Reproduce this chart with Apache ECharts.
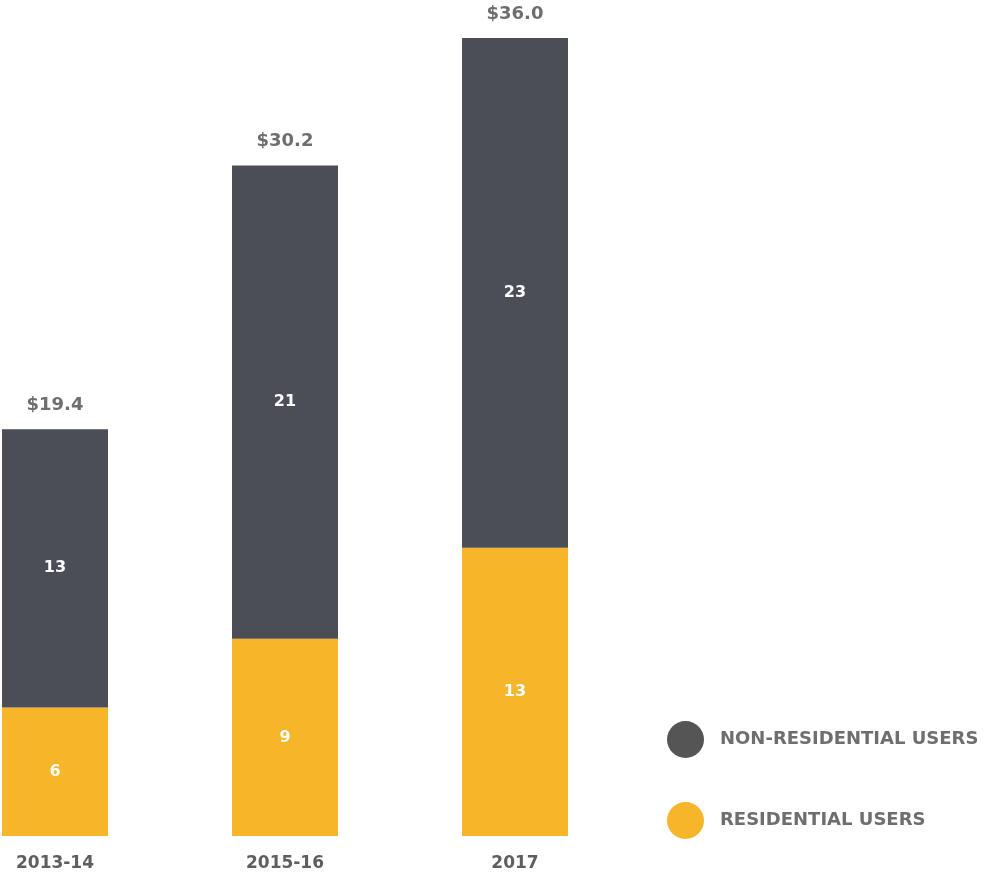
<!DOCTYPE html>
<html><head><meta charset="utf-8">
<script src="https://cdn.jsdelivr.net/npm/echarts@6/dist/echarts.min.js"></script>
<style>html,body{margin:0;padding:0;background:#fff}#c{width:1004px;height:872px}</style>
</head><body><div id="c"></div>
<script>
const categories = ["2013-14", "2015-16", "2017"];
const residential = [5.8, 8.9, 13.0];
const nonResidential = [12.55, 21.35, 23.0];
const residentialLabels = ["6", "9", "13"];
const nonResidentialLabels = ["13", "21", "23"];
const totalLabels = ["$19.4", "$30.2", "$36.0"];

const FONT = "DejaVu Sans";
const chart = echarts.init(document.getElementById('c'));
chart.setOption({
  animation: false,
  backgroundColor: '#ffffff',
  grid: { left: 55, right: 489, top: 38, bottom: 36, containLabel: false },
  xAxis: {
    type: 'category', data: categories, boundaryGap: false,
    axisLine: { show: false }, axisTick: { show: false },
    axisLabel: { color: '#5d5e60', fontFamily: FONT, fontWeight: 'bold', fontSize: 17, margin: 19 }
  },
  yAxis: { type: 'value', min: 0, max: 36, show: false, splitLine: { show: false } },
  legend: {
    orient: 'vertical', left: 667, top: 721, padding: 0, itemWidth: 37, itemHeight: 37, itemGap: 44,
    icon: 'circle',
    textStyle: { color: '#6d6e71', fontFamily: FONT, fontWeight: 'bold', fontSize: 18, padding: [0, 0, 0, 11] },
    data: [
      { name: 'NON-RESIDENTIAL USERS', itemStyle: { color: '#555555' } },
      { name: 'RESIDENTIAL USERS', itemStyle: { color: '#f7b52a' } }
    ]
  },
  series: [
    {
      name: 'RESIDENTIAL USERS', type: 'bar', stack: 'total', barWidth: 106,
      data: residential,
      itemStyle: { color: '#f7b52a' },
      label: { show: true, position: 'inside', color: '#ffffff', fontFamily: FONT, fontWeight: 'bold', fontSize: 16,
        formatter: p => residentialLabels[p.dataIndex] }
    },
    {
      name: 'NON-RESIDENTIAL USERS', type: 'bar', stack: 'total', barWidth: 106,
      data: nonResidential,
      itemStyle: { color: '#4b4e56' },
      label: { show: true, position: 'inside', color: '#ffffff', fontFamily: FONT, fontWeight: 'bold', fontSize: 16,
        formatter: p => nonResidentialLabels[p.dataIndex] }
    },
    {
      name: 'totals', type: 'bar', stack: 'total', barWidth: 106,
      data: [0, 0, 0], itemStyle: { color: 'transparent' },
      label: { show: true, position: 'top', distance: 15, color: '#6d6e71', fontFamily: FONT, fontWeight: 'bold', fontSize: 18,
        formatter: p => totalLabels[p.dataIndex] }
    }
  ]
});
</script></body></html>
